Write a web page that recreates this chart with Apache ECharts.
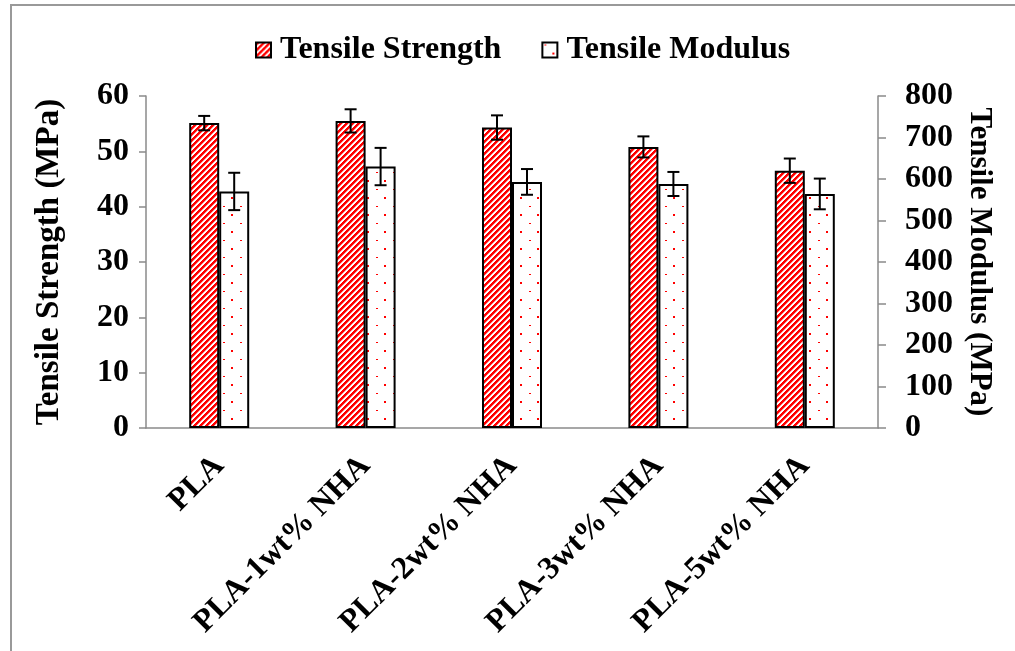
<!DOCTYPE html>
<html>
<head>
<meta charset="utf-8">
<script src="https://cdn.jsdelivr.net/npm/echarts@6/dist/echarts.min.js"></script>
<style>
  html, body { margin: 0; padding: 0; background: #fff; }
  #chart { width: 1015px; height: 651px; }
</style>
</head>
<body>
<div id="chart"></div>
<script>
// Samples and measured properties
const categories = ['PLA', 'PLA-1wt% NHA', 'PLA-2wt% NHA', 'PLA-3wt% NHA', 'PLA-5wt% NHA'];
const strength = [55.1, 55.5, 54.3, 50.8, 46.5];      // MPa
const strengthErr = [1.3, 2.1, 2.2, 1.9, 2.2];
const modulus = [570, 630, 593, 588, 564];            // MPa
const modulusErr = [45, 45, 31, 29, 37];
const strengthTicks = [0, 60, 10];
const modulusTicks = [0, 800, 100];

const FONT = '"Liberation Serif", "Times New Roman", serif';

// Red "/" hatching for the strength bars
function stripePattern() {
  const n = 6, c = document.createElement('canvas');
  c.width = n; c.height = n;
  const ctx = c.getContext('2d');
  const img = ctx.createImageData(n, n);
  for (let y = 0; y < n; y++) {
    for (let x = 0; x < n; x++) {
      const i = (y * n + x) * 4;
      const k = (x + y) % n;
      const g = k < 3 ? 0 : (k === 3 ? 150 : 255);
      img.data[i] = 255;
      img.data[i + 1] = g;
      img.data[i + 2] = g;
      img.data[i + 3] = 255;
    }
  }
  ctx.putImageData(img, 0, 0);
  return c;
}

// Sparse red dots on white for the modulus bars
function dotPattern() {
  const w = 17, h = 17, c = document.createElement('canvas');
  c.width = w; c.height = h;
  const ctx = c.getContext('2d');
  ctx.fillStyle = '#fff';
  ctx.fillRect(0, 0, w, h);
  ctx.fillStyle = '#ff0000';
  ctx.fillRect(2, 2, 2, 1);
  ctx.fillRect(10, 10, 2, 2);
  return c;
}

const chart = echarts.init(document.getElementById('chart'), null, { renderer: 'canvas' });

function errorBars(values, errs, offset) {
  return function (params, api) {
    const i = api.value(0);
    const v = values[i], e = errs[i];
    const hi = api.coord([i, v + e]);
    const lo = api.coord([i, v - e]);
    const x = hi[0] + offset;
    const cap = 6;
    const style = { stroke: '#000', lineWidth: 2 };
    return {
      type: 'group',
      children: [
        { type: 'line', shape: { x1: x, y1: hi[1], x2: x, y2: lo[1] }, style },
        { type: 'line', shape: { x1: x - cap, y1: hi[1], x2: x + cap, y2: hi[1] }, style },
        { type: 'line', shape: { x1: x - cap, y1: lo[1], x2: x + cap, y2: lo[1] }, style }
      ]
    };
  };
}

const axisLine = { show: true, lineStyle: { color: '#8a8a8a', width: 1.5 } };
const tickLabel = { color: '#000', fontFamily: FONT, fontWeight: 'bold', fontSize: 32 };
const nameStyle = { color: '#000', fontFamily: FONT, fontWeight: 'bold', fontSize: 33 };

chart.setOption({
  animation: false,
  backgroundColor: '#fff',
  graphic: [{
    type: 'rect', z: -1,
    shape: { x: 11, y: 5, width: 1100, height: 700 },
    style: { fill: 'none', stroke: '#999', lineWidth: 2 }
  }],
  legend: {
    top: 29,
    left: 250,
    itemWidth: 15,
    itemHeight: 15,
    itemGap: 40,
    icon: 'rect',
    data: ['Tensile Strength', 'Tensile Modulus'],
    textStyle: { color: '#000', fontFamily: FONT, fontWeight: 'bold', fontSize: 32, padding: [0, 0, 0, 4] }
  },
  grid: { left: 146, right: 137, top: 96, bottom: 223 },
  xAxis: {
    type: 'category',
    data: categories,
    axisLine: axisLine,
    axisTick: { show: false },
    axisLabel: { ...tickLabel, fontSize: 32, rotate: 45, margin: 33, interval: 0 }
  },
  yAxis: [{
    type: 'value',
    min: strengthTicks[0], max: strengthTicks[1], interval: strengthTicks[2],
    name: 'Tensile Strength (MPa)',
    nameLocation: 'middle',
    nameGap: 80,
    nameTextStyle: nameStyle,
    axisLine: axisLine,
    axisTick: { show: true, length: 7, lineStyle: { color: '#8a8a8a', width: 1.5 } },
    splitLine: { show: false },
    axisLabel: { ...tickLabel, margin: 17 }
  }, {
    type: 'value',
    position: 'right',
    min: modulusTicks[0], max: modulusTicks[1], interval: modulusTicks[2],
    name: 'Tensile Modulus (MPa)',
    nameLocation: 'middle',
    nameGap: 84,
    nameRotate: -90,
    nameTextStyle: { ...nameStyle, fontSize: 31 },
    axisLine: axisLine,
    axisTick: { show: true, length: 8, lineStyle: { color: '#8a8a8a', width: 1.5 } },
    splitLine: { show: false },
    axisLabel: { ...tickLabel, margin: 27 }
  }],
  series: [{
    name: 'Tensile Strength',
    type: 'bar',
    yAxisIndex: 0,
    barWidth: 30,
    barGap: '0%',
    data: strength,
    itemStyle: { color: { image: stripePattern(), repeat: 'repeat' }, borderColor: '#000', borderWidth: 2 }
  }, {
    name: 'Tensile Modulus',
    type: 'bar',
    yAxisIndex: 1,
    barWidth: 30,
    barGap: '0%',
    data: modulus,
    itemStyle: { color: { image: dotPattern(), repeat: 'repeat' }, borderColor: '#000', borderWidth: 2 }
  }, {
    type: 'custom',
    yAxisIndex: 0,
    z: 10,
    data: strength.map((v, i) => [i, v]),
    renderItem: errorBars(strength, strengthErr, -15)
  }, {
    type: 'custom',
    yAxisIndex: 1,
    z: 10,
    data: modulus.map((v, i) => [i, v]),
    renderItem: errorBars(modulus, modulusErr, 15)
  }]
});
</script>
</body>
</html>
